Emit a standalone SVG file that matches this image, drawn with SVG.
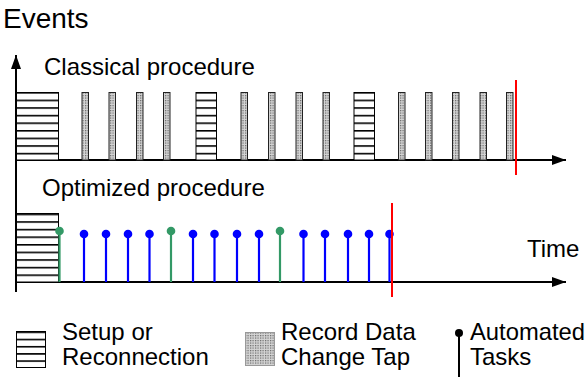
<svg xmlns="http://www.w3.org/2000/svg" width="586" height="378" viewBox="0 0 586 378">
<style>
text{font-family:"Liberation Sans",Arial,sans-serif;fill:#000}
.lbl{font-size:24px}
.ax{stroke:#000;stroke-width:2;fill:none}
.setup{fill:url(#stripes);stroke:#000;stroke-width:1}
.rec{fill:url(#dots);stroke:#222;stroke-width:1}
.g{stroke:#339966;stroke-width:2.2}
.gd{fill:#339966}
.b{stroke:#0000ff;stroke-width:2.2}
.bd{fill:#0000ff}
.red{stroke:#ff0000;stroke-width:2}
</style>
<defs>
<pattern id="stripes" patternUnits="userSpaceOnUse" x="0" y="92" width="10" height="7.6">
<rect width="10" height="7.6" fill="#fff"/>
<rect y="0" width="10" height="1.6" fill="#000"/>
</pattern>
<pattern id="stripes2" patternUnits="userSpaceOnUse" x="0" y="331.5" width="10" height="7.2">
<rect width="10" height="7.2" fill="#fff"/>
<rect width="10" height="1.6" fill="#000"/>
</pattern>
<pattern id="dots" patternUnits="userSpaceOnUse" width="2.5" height="2.5">
<rect width="2.5" height="2.5" fill="#d4d4d4"/>
<rect width="1.2" height="1.2" fill="#666"/>
</pattern>
<marker id="arr" markerWidth="14" markerHeight="10" refX="14" refY="5" orient="auto" markerUnits="userSpaceOnUse">
<path d="M0,0 L14,5 L0,10 z" fill="#000"/>
</marker>
</defs>

<g id="title">
<text x="3" y="28" style="font-size:28px">Events</text>
</g>

<g id="connectors">
<line class="ax" x1="16" y1="292" x2="16" y2="55" marker-end="url(#arr)"/>
<line class="ax" x1="16" y1="160" x2="566" y2="160" marker-end="url(#arr)"/>
<line class="ax" x1="16" y1="282" x2="566" y2="282" marker-end="url(#arr)"/>
</g>

<g id="classical">
<text class="lbl" x="44" y="75">Classical procedure</text>
<rect class="setup" x="16.5" y="92.5" width="42" height="67.5"/>
<rect class="setup" x="196" y="92.5" width="20.5" height="67.5"/>
<rect class="setup" x="354" y="92.5" width="20.5" height="67.5"/>
<rect class="rec" x="82" y="92.5" width="6.5" height="67.5"/>
<rect class="rec" x="109" y="92.5" width="6.5" height="67.5"/>
<rect class="rec" x="136.5" y="92.5" width="6.5" height="67.5"/>
<rect class="rec" x="163.5" y="92.5" width="6.5" height="67.5"/>
<rect class="rec" x="241" y="92.5" width="6.5" height="67.5"/>
<rect class="rec" x="268.5" y="92.5" width="6.5" height="67.5"/>
<rect class="rec" x="296" y="92.5" width="6.5" height="67.5"/>
<rect class="rec" x="323" y="92.5" width="6.5" height="67.5"/>
<rect class="rec" x="398.5" y="92.5" width="6.5" height="67.5"/>
<rect class="rec" x="425.5" y="92.5" width="6.5" height="67.5"/>
<rect class="rec" x="452.5" y="92.5" width="6.5" height="67.5"/>
<rect class="rec" x="480" y="92.5" width="6.5" height="67.5"/>
<rect class="rec" x="506.5" y="92.5" width="6.5" height="67.5"/>
<line class="red" x1="516" y1="80" x2="516" y2="175"/>
</g>

<g id="optimized">
<text class="lbl" x="42" y="196">Optimized procedure</text>
<rect class="setup" x="16.5" y="213.5" width="42" height="68.5"/>
<g class="stems">
<line class="g" x1="59.5" y1="231" x2="59.5" y2="282"/><circle class="gd" cx="59.5" cy="231" r="4.3"/>
<line class="b" x1="84" y1="234" x2="84" y2="282"/><circle class="bd" cx="84" cy="234" r="4.3"/>
<line class="b" x1="106" y1="234" x2="106" y2="282"/><circle class="bd" cx="106" cy="234" r="4.3"/>
<line class="b" x1="128" y1="234" x2="128" y2="282"/><circle class="bd" cx="128" cy="234" r="4.3"/>
<line class="b" x1="149.5" y1="234" x2="149.5" y2="282"/><circle class="bd" cx="149.5" cy="234" r="4.3"/>
<line class="g" x1="171" y1="231" x2="171" y2="282"/><circle class="gd" cx="171" cy="231" r="4.3"/>
<line class="b" x1="193" y1="234" x2="193" y2="282"/><circle class="bd" cx="193" cy="234" r="4.3"/>
<line class="b" x1="214.5" y1="234" x2="214.5" y2="282"/><circle class="bd" cx="214.5" cy="234" r="4.3"/>
<line class="b" x1="237" y1="234" x2="237" y2="282"/><circle class="bd" cx="237" cy="234" r="4.3"/>
<line class="b" x1="259" y1="234" x2="259" y2="282"/><circle class="bd" cx="259" cy="234" r="4.3"/>
<line class="g" x1="280" y1="231" x2="280" y2="282"/><circle class="gd" cx="280" cy="231" r="4.3"/>
<line class="b" x1="303.5" y1="234" x2="303.5" y2="282"/><circle class="bd" cx="303.5" cy="234" r="4.3"/>
<line class="b" x1="325" y1="234" x2="325" y2="282"/><circle class="bd" cx="325" cy="234" r="4.3"/>
<line class="b" x1="348" y1="234" x2="348" y2="282"/><circle class="bd" cx="348" cy="234" r="4.3"/>
<line class="b" x1="369" y1="234" x2="369" y2="282"/><circle class="bd" cx="369" cy="234" r="4.3"/>
<line class="b" x1="389.5" y1="234" x2="389.5" y2="282"/><circle class="bd" cx="389.5" cy="234" r="4.3"/>
</g>
<line class="red" x1="392" y1="203" x2="392" y2="297"/>
<text class="lbl" x="527" y="257">Time</text>
</g>

<g id="legend-setup">
<rect class="setup" x="16.5" y="331.5" width="29" height="36" style="fill:url(#stripes2)"/>
<text class="lbl" x="62" y="340">Setup or</text>
<text class="lbl" x="62" y="365">Reconnection</text>
</g>
<g id="legend-record">
<rect class="rec" x="245.5" y="332.5" width="29" height="33" style="stroke:#999"/>
<text class="lbl" x="281" y="340">Record Data</text>
<text class="lbl" x="281" y="365">Change Tap</text>
</g>
<g id="legend-auto">
<line x1="459" y1="333" x2="459" y2="377" stroke="#000" stroke-width="2"/>
<circle cx="459" cy="333" r="4" fill="#000"/>
<text class="lbl" x="470" y="340" textLength="115" lengthAdjust="spacingAndGlyphs">Automated</text>
<text class="lbl" x="470" y="365">Tasks</text>
</g>
</svg>
